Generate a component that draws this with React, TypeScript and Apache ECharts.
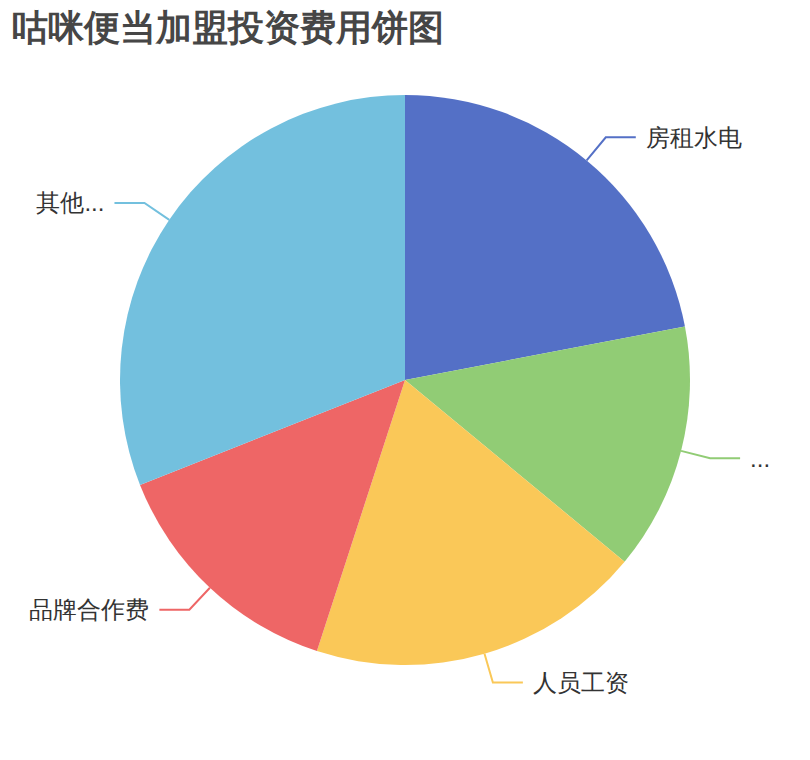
import React, { useEffect, useRef } from 'react';
import * as echarts from 'echarts';

// 饼图数据
const names = ['房租水电', '装修设备费', '人员工资', '品牌合作费', '其他杂项费用'];
const values = [22, 14, 19, 14, 31];
const colors = ['#5470c6', '#91cc75', '#fac858', '#ee6666', '#73c0de'];

const App: React.FC = () => {
  const chartRef: any = useRef(null);

  useEffect(() => {
    document.body.style.margin = '0';
    const chart = echarts.init(chartRef.current, null, { renderer: 'svg' });
    const option = {
      animation: false,
      color: colors,
      title: {
        text: '咕咪便当加盟投资费用饼图',
        left: 7,
        top: 4,
        textStyle: {
          fontSize: 36,
          fontWeight: 'bold',
          color: '#464646'
        }
      },
      series: [
        {
          name: '投资费用',
          type: 'pie',
          left: 8,
          right: 8,
          radius: '75%',
          center: ['50%', '50%'],
          label: {
            fontSize: 24,
            color: '#333',
            distanceToLabelLine: 10
          },
          labelLine: {
            length: 30,
            length2: 30,
            lineStyle: { width: 2 }
          },
          data: names.map((n, i) => ({ name: n, value: values[i] }))
        }
      ]
    };
    chart.setOption(option);
    return () => {
      chart.dispose();
    };
  }, []);

  return <div ref={chartRef} style={{ width: 810, height: 760 }}></div>;
};

export default App;
